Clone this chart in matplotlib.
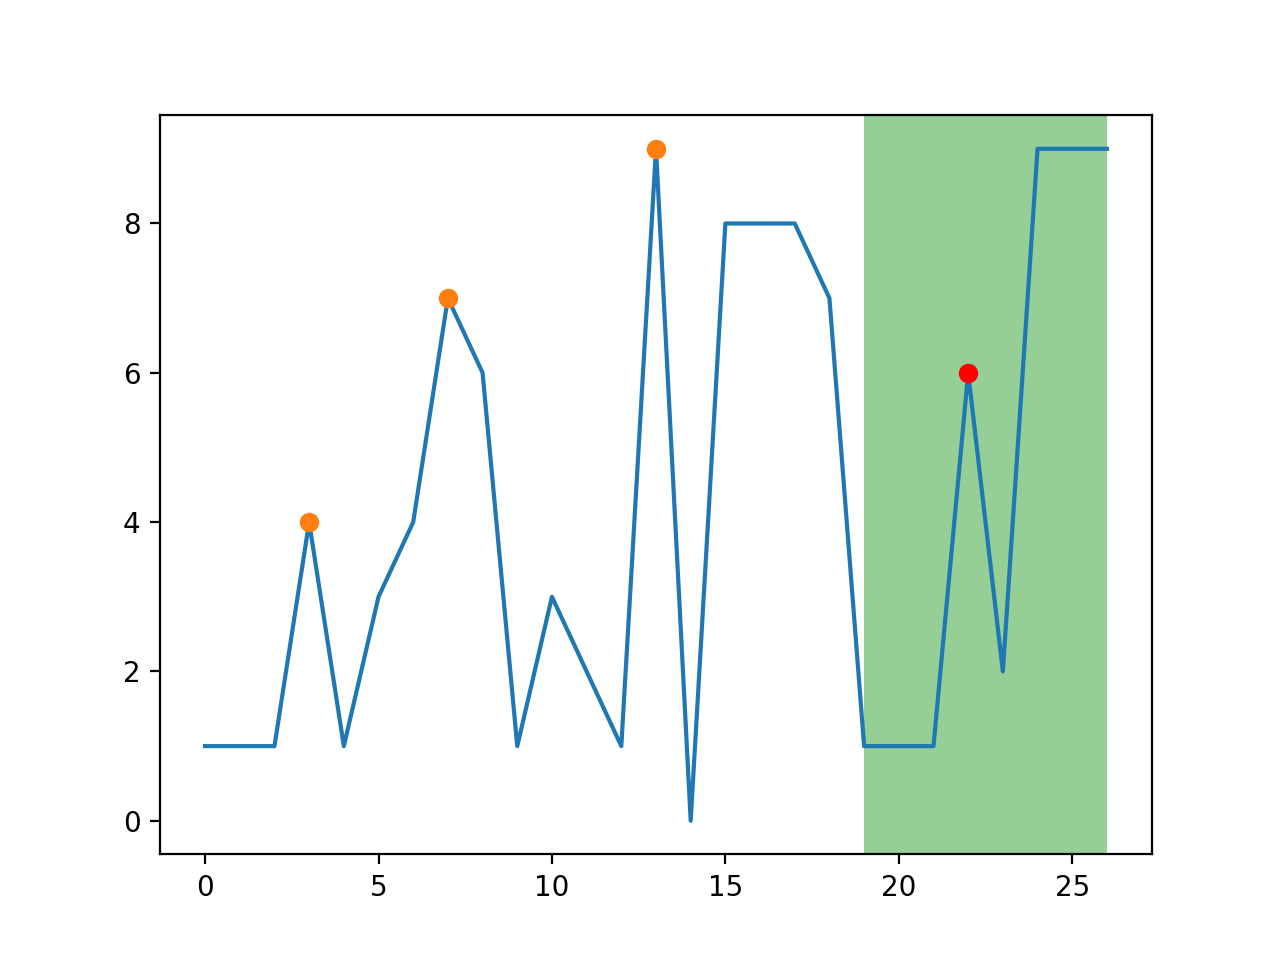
import matplotlib
matplotlib.use("Agg")
import matplotlib.pyplot as plt

x = list(range(27))
y = [1, 1, 1, 4, 1, 3, 4, 7, 6, 1, 3, 2, 1, 9, 0, 8, 8, 8, 7, 1, 1, 1, 6, 2, 9, 9, 9]
peaks = [3, 7, 13]
red_peaks = [22]
span = (19, 26)

fig, ax = plt.subplots(figsize=(6.4, 4.8), dpi=200)
ax.plot(x, y, color='#1f77b4')
ax.plot(peaks, [y[i] for i in peaks], 'o', color='#ff7f0e')
ax.plot(red_peaks, [y[i] for i in red_peaks], 'o', color='red')
ax.axvspan(span[0], span[1], color='#2ca02c', alpha=0.5, lw=0)
fig.savefig("out.png")
